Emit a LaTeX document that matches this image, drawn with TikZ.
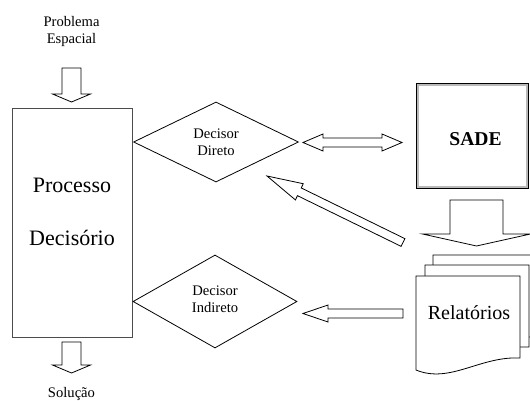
\documentclass[tikz,border=0pt]{standalone}
\usepackage{fontspec}
\setmainfont{Liberation Serif}
\usetikzlibrary{calc,shapes.geometric}
\tikzset{
  ln/.style={line width=0.8pt, draw=black},
  blk/.style={ln, fill=white, line join=miter},
  procbox/.style={draw=black!70, line width=0.9pt, minimum width=120pt, minimum height=229pt, inner sep=0pt},
  dmd/.style={diamond, draw=black, line width=0.8pt, inner sep=0pt, aspect=2},
  lbl/.style={font=\fontsize{14.6}{17}\selectfont, align=center, inner sep=0pt},
  bigtxt/.style={font=\fontsize{22}{26}\selectfont, inner sep=0pt},
  doctxt/.style={font=\fontsize{20}{24}\selectfont, inner sep=0pt},
  sadetxt/.style={font=\fontsize{19.6}{23}\selectfont\bfseries, inner sep=0pt},
  sadebox/.style={draw=black, line width=0.6pt, double=gray!55, double distance=2.2pt, minimum width=109.5pt, minimum height=102.5pt, inner sep=0pt},
  docpage/.style={ln, fill=white},
}
% block arrow: tail, tip, shaft half-width, head half-width, head length
\newcommand{\blkarrow}[5]{%
  \coordinate (ba-h) at ($(#2)!#5!(#1)$);
  \draw[blk] ($(#1)!#3!90:(#2)$) -- ($(ba-h)!#3!90:(#2)$) -- ($(ba-h)!#4!90:(#2)$) -- (#2)
    -- ($(ba-h)!#4!-90:(#2)$) -- ($(ba-h)!#3!-90:(#2)$) -- ($(#1)!#3!-90:(#2)$) -- cycle;
}
% double block arrow: end A, end B, shaft half-width, head half-width, head length
\newcommand{\dblarrow}[5]{%
  \coordinate (da-a) at ($(#1)!#5!(#2)$);
  \coordinate (da-b) at ($(#2)!#5!(#1)$);
  \draw[blk] (#1) -- ($(da-a)!#4!90:(#2)$) -- ($(da-a)!#3!90:(#2)$) -- ($(da-b)!#3!90:(#2)$)
    -- ($(da-b)!#4!90:(#2)$) -- (#2) -- ($(da-b)!#4!-90:(#2)$) -- ($(da-b)!#3!-90:(#2)$)
    -- ($(da-a)!#3!-90:(#2)$) -- ($(da-a)!#4!-90:(#2)$) -- cycle;
}
\newcommand{\docshape}[1]{%
  \draw[docpage, shift={#1}] (416,276) -- (520,276) -- (520,358)
    .. controls (480,356) and (450,384) .. (416,370) -- cycle;
}
\begin{document}
\begin{tikzpicture}[x=1pt, y=-1pt]
  \useasboundingbox (0,0) rectangle (530,401);

  % Processo Decisorio
  \node[procbox] (pd) at (72,222.5) {};
  \node[bigtxt, anchor=base] (pd1) at (72,192) {Processo};
  \node[bigtxt, anchor=base] (pd2) at (72,245) {Decisório};

  % top / bottom labels
  \node[lbl] (prob) at (71.5,31.1) {Problema\\Espacial};
  \node[lbl, anchor=base] (sol) at (71.5,397) {Solução};

  % diamonds
  \node[dmd, minimum width=165pt, minimum height=80pt] (dd) at (216,142) {};
  \node[lbl] (ddt) at (216,142) {Decisor\\Direto};
  \node[dmd, minimum width=164pt, minimum height=93pt] (di) at (215,301.5) {};
  \node[lbl] (dit) at (215,299) {Decisor\\Indireto};

  % SADE
  \node[sadebox] (sade) at (472.5,136) {};
  \node[sadetxt, anchor=base] (sadet) at (475.5,146) {SADE};

  % Relatorios
  \docshape{(17,-21)}
  \docshape{(9,-11)}
  \docshape{(0,0)}
  \node[doctxt, anchor=base] (rel) at (469,319) {Relatórios};

  % arrow end points
  \coordinate (a1t) at (71.5,68);   \coordinate (a1h) at (71.5,102);
  \coordinate (a2t) at (71.5,342);  \coordinate (a2h) at (71.5,373);
  \coordinate (a3a) at (303,142.5); \coordinate (a3b) at (402,142.5);
  \coordinate (a4t) at (403,242.5); \coordinate (a4h) at (267,176);
  \coordinate (a5t) at (476.5,200); \coordinate (a5h) at (476.5,246);
  \coordinate (a6t) at (403,313.5); \coordinate (a6h) at (303,313.5);

  \blkarrow{a1t}{a1h}{9.5pt}{19pt}{8pt}
  \blkarrow{a2t}{a2h}{9.5pt}{19pt}{8pt}
  \dblarrow{a3a}{a3b}{4.5pt}{8.5pt}{20pt}
  \blkarrow{a4t}{a4h}{4.3pt}{9pt}{36pt}
  \blkarrow{a5t}{a5h}{26.5pt}{54pt}{12pt}
  \blkarrow{a6t}{a6h}{4.5pt}{8.5pt}{25pt}
\end{tikzpicture}
\end{document}
